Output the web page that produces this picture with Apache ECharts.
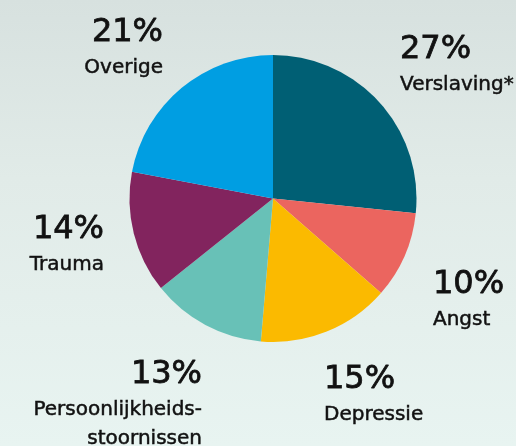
<!DOCTYPE html>
<html>
<head>
<meta charset="utf-8">
<script src="https://cdn.jsdelivr.net/npm/echarts@6/dist/echarts.min.js"></script>
<style>
  html, body { margin: 0; padding: 0; }
  #chart { width: 516px; height: 446px; background: linear-gradient(180deg, #d7e1df 0%, #e1ebe8 40%, #e8f4f1 100%); }
</style>
</head>
<body>
<div id="chart"></div>
<script>
var categories = ['Verslaving*', 'Angst', 'Depressie', 'Persoonlijkheids-\nstoornissen', 'Trauma', 'Overige'];
// slice sizes as drawn in the picture
var sliceValues = [26.6, 9.8, 14.9, 12.9, 13.7, 22.0];
// percentages printed in the labels
var labelPercents = [27, 10, 15, 13, 14, 21];
var sliceColors = ['#005f74', '#eb655f', '#fbba00', '#68c1b7', '#82245e', '#009ee2'];

// where each label block sits (anchor point + alignment)
var labelSpots = [
    {x: 400, y: 29, align: 'left'},
    {x: 433, y: 264, align: 'left'},
    {x: 324, y: 359, align: 'left'},
    {x: 202, y: 354, align: 'right'},
    {x: 104, y: 209, align: 'right'},
    {x: 163, y: 12, align: 'right'}
];

var myChart = echarts.init(document.getElementById('chart'));

var option = {
    backgroundColor: 'transparent',
    series: [{
        type: 'pie',
        center: [273, 198.5],
        radius: 143.5,
        startAngle: 90,
        clockwise: true,
        silent: true,
        animation: false,
        data: categories.map(function (c, i) {
            return {name: c, value: sliceValues[i], itemStyle: {color: sliceColors[i]}};
        }),
        itemStyle: {borderWidth: 0},
        labelLine: {show: false},
        label: {
            show: true,
            position: 'outside',
            alignTo: 'none',
            overflow: 'none',
            formatter: function (p) {
                var lines = p.name.split('\n').map(function (l) { return '{n|' + l + '}'; });
                return '{p|' + labelPercents[p.dataIndex] + '%}\n' + lines.join('\n');
            },
            rich: {
                p: {fontFamily: 'DejaVu Sans', fontSize: 32, color: '#111', lineHeight: 41,
                    textBorderColor: '#111', textBorderWidth: 0.8},
                n: {fontFamily: 'DejaVu Sans', fontSize: 20, color: '#111', lineHeight: 29,
                    textBorderColor: '#111', textBorderWidth: 0.5}
            }
        },
        labelLayout: function (params) {
            var s = labelSpots[params.dataIndex];
            return {x: s.x, y: s.y, align: s.align, verticalAlign: 'top', hideOverlap: false};
        }
    }]
};

myChart.setOption(option);
</script>
</body>
</html>
